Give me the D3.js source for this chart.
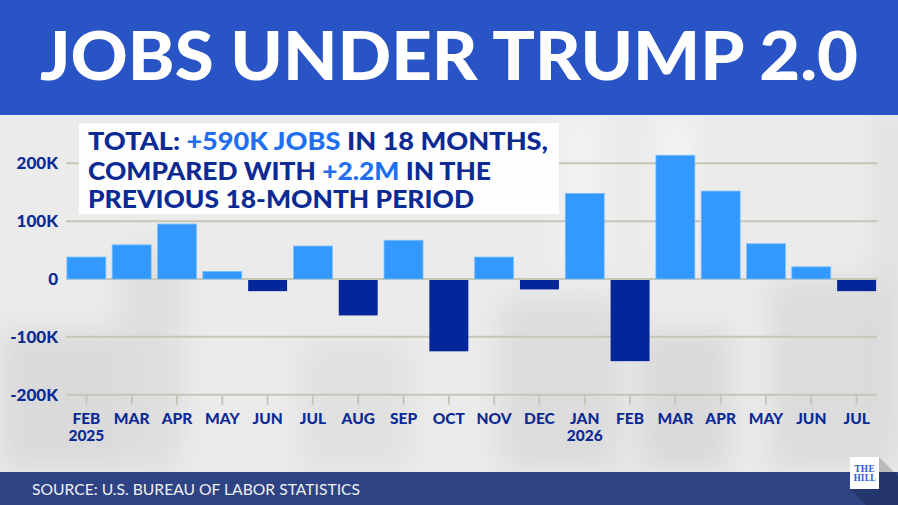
<!DOCTYPE html>
<html><head><meta charset="utf-8">
<script src="https://cdn.jsdelivr.net/npm/d3@7"></script>
<style>html,body{margin:0;padding:0;background:#e8e8e8;overflow:hidden}svg{display:block}</style>
</head><body>
<svg id="c" width="898" height="505"></svg>
<script>
const months = ["FEB","MAR","APR","MAY","JUN","JUL","AUG","SEP","OCT","NOV","DEC","JAN","FEB","MAR","APR","MAY","JUN","JUL"];
const years  = ["2025","","","","","","","","","","","2026","","","","","",""];
const values = [38,59,95,13,-21,57,-63,67,-125,38,-18,148,-142,214,152,61,21,-21]; // thousands
const yTicks = [-200,-100,0,100,200];
const yTickLabels = ["-200K","-100K","0","100K","200K"];
const keys = months.map((m,i)=>m+"-"+i);

const svg = d3.select("#c");
const W=898,H=505;
const dark="#0b2a94", bright="#1f6ff0";

// background (blurred office impression)
const defs = svg.append("defs");
defs.append("filter").attr("id","blur").attr("x","-20%").attr("y","-20%").attr("width","140%").attr("height","140%")
  .append("feGaussianBlur").attr("stdDeviation",14);
const bg = svg.append("g");
bg.append("rect").attr("width",W).attr("height",H).attr("fill","#ebebeb");
const bgShapes = bg.append("g").attr("filter","url(#blur)");
[[0,330,140,140,"#dadada"],[120,250,60,220,"#dedede"],[500,300,120,170,"#dcdcdc"],[640,330,90,140,"#d9d9d9"],[770,280,130,190,"#dcdcdc"],[300,340,110,130,"#e1e1e1"],[560,115,40,150,"#f3f3f3"],[660,115,30,150,"#f4f4f4"],[880,115,18,300,"#d9d9d9"]]
 .forEach(d=>bgShapes.append("rect").attr("x",d[0]).attr("y",d[1]).attr("width",d[2]).attr("height",d[3]).attr("fill",d[4]));

// header band
svg.append("rect").attr("x",0).attr("y",0).attr("width",W).attr("height",115).attr("fill","#2854c5");
svg.append("text").attr("x",449).attr("y",80).attr("text-anchor","middle")
  .attr("font-family","Lato, 'Open Sans', sans-serif").attr("font-weight",900).attr("font-size",66)
  .attr("fill","#fff").attr("textLength",818).attr("lengthAdjust","spacingAndGlyphs")
  .text("JOBS UNDER TRUMP 2.0");

// scales
const x = d3.scaleBand().domain(keys).range([66,877]).paddingInner(0.14).paddingOuter(0.02);
const y = d3.scaleLinear().domain([-200,200]).range([394.7,163.3]);

// gridlines
const grid = svg.append("g");
grid.selectAll("line").data(yTicks).join("line")
  .attr("x1",66).attr("x2",877).attr("y1",d=>y(d)).attr("y2",d=>y(d))
  .attr("stroke","#c7c5b6").attr("stroke-width",2);

// y labels
svg.append("g").selectAll("text").data(yTicks).join("text")
  .attr("x",58).attr("y",d=>y(d)).attr("dy","0.36em").attr("text-anchor","end")
  .attr("font-family","Lato, 'Open Sans', sans-serif").attr("font-weight",900).attr("font-size",17)
  .attr("fill",dark).text((d,i)=>yTickLabels[i]);

// bars
svg.append("g").selectAll("rect").data(values).join("rect")
  .attr("x",(d,i)=>x(keys[i])).attr("width",x.bandwidth())
  .attr("y",d=>d>=0?y(d):y(0)+1).attr("height",d=>Math.abs(y(d)-y(0))-(d>=0?0:1))
  .attr("fill",d=>d>=0?"#3399fe":"#03279a")
  .attr("stroke",d=>d>=0?"#7cc0ff":"none").attr("stroke-width",0.8);

// x axis ticks and labels
const xg = svg.append("g");
xg.selectAll("line").data(keys).join("line")
  .attr("x1",d=>x(d)+x.bandwidth()/2).attr("x2",d=>x(d)+x.bandwidth()/2)
  .attr("y1",y(-200)).attr("y2",y(-200)+10).attr("stroke","#c7c5b6").attr("stroke-width",2);
xg.selectAll("text.m").data(keys).join("text").attr("class","m")
  .attr("x",d=>x(d)+x.bandwidth()/2).attr("y",424).attr("text-anchor","middle")
  .attr("font-family","Lato, 'Open Sans', sans-serif").attr("font-weight",900).attr("font-size",15.5)
  .attr("fill",dark).text((d,i)=>months[i]);
xg.selectAll("text.yr").data(keys.filter((d,i)=>years[i])).join("text").attr("class","yr")
  .attr("x",d=>x(d)+x.bandwidth()/2).attr("y",441).attr("text-anchor","middle")
  .attr("font-family","Lato, 'Open Sans', sans-serif").attr("font-weight",900).attr("font-size",15.5)
  .attr("fill",dark).text(d=>years[keys.indexOf(d)]);

// annotation box
svg.append("rect").attr("x",79).attr("y",123).attr("width",480).attr("height",91)
  .attr("fill","#ffffff").attr("opacity",0.93);
const lines = [
  [["TOTAL: ",dark],["+590K JOBS",bright],[" IN 18 MONTHS,",dark]],
  [["COMPARED WITH ",dark],["+2.2M",bright],[" IN THE",dark]],
  [["PREVIOUS 18-MONTH PERIOD",dark]]
];
const lineW=[460,403,386], lineY=[150,179.5,207.5];
lines.forEach((ln,i)=>{
  const t = svg.append("text").attr("x",88).attr("y",lineY[i])
    .attr("font-family","Lato, 'Open Sans', sans-serif").attr("font-weight",900).attr("font-size",24.5)
    .attr("textLength",lineW[i]).attr("lengthAdjust","spacingAndGlyphs");
  ln.forEach(s=>t.append("tspan").attr("fill",s[1]).text(s[0]));
});

// footer
svg.append("rect").attr("x",0).attr("y",472).attr("width",W).attr("height",33).attr("fill","#2e4384");
svg.append("text").attr("x",32).attr("y",495).attr("font-family","Lato, 'Open Sans', sans-serif")
  .attr("font-size",14.5).attr("fill","#f0f0f0").attr("textLength",328).attr("lengthAdjust","spacingAndGlyphs")
  .text("SOURCE: U.S. BUREAU OF LABOR STATISTICS");

// logo with shadow
svg.append("polygon").attr("points","879,457 898,476 898,505 866,505 850,489 879,489").attr("fill","#000").attr("opacity",0.18);
svg.append("rect").attr("x",850).attr("y",457).attr("width",29).attr("height",32).attr("fill","#fff");
svg.append("text").attr("x",864.5).attr("y",472).attr("text-anchor","middle").attr("font-family","'DejaVu Serif', serif")
  .attr("font-weight","bold").attr("font-size",8.5).attr("fill","#2f62d0").attr("textLength",20).attr("lengthAdjust","spacingAndGlyphs").text("THE");
svg.append("text").attr("x",864.5).attr("y",481).attr("text-anchor","middle").attr("font-family","'DejaVu Serif', serif")
  .attr("font-weight","bold").attr("font-size",8.5).attr("fill","#2f62d0").attr("textLength",22).attr("lengthAdjust","spacingAndGlyphs").text("HILL");
</script>
</body></html>
